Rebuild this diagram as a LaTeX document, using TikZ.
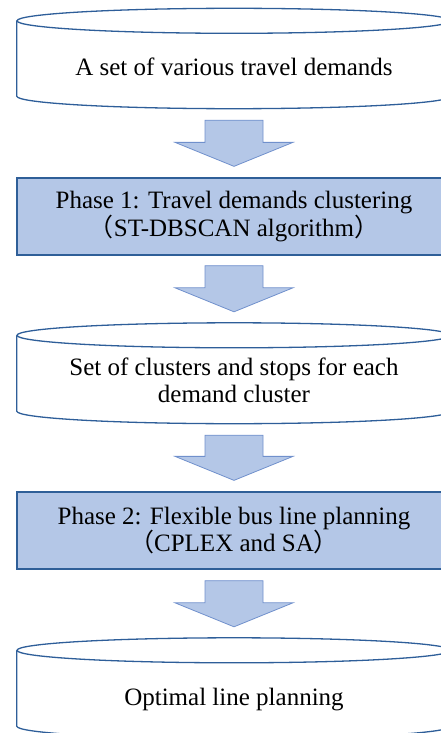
\documentclass[tikz,border=0pt]{standalone}
\usepackage{fontspec}
\setmainfont{Liberation Serif}
\newfontfamily\cjk{Noto Sans CJK SC}
\usetikzlibrary{calc}

\definecolor{phasefill}{HTML}{B4C7E7}
\definecolor{phaseline}{HTML}{2F5F98}
\definecolor{drumline}{HTML}{2E5E99}
\definecolor{arrowline}{HTML}{7090CC}

% full-width brackets as in the source text
\newcommand\lpar{{\cjk （}}
\newcommand\rpar{{\cjk ）}}

% block arrow from node #1 (gap #3 below it) to node #2 (tip #4 above it)
\newcommand\fatarrow[4]{%
  \path let \p1=($(#1.south)+(0,-#3)$), \p2=($(#2.north)+(0,#4)$) in
    [blockarrow] (\x1-29pt,\y1) -- (\x1+29pt,\y1) -- (\x1+29pt,\y2+24pt)
    -- (\x1+59pt,\y2+24pt) -- (\x1,\y2) -- (\x1-59pt,\y2+24pt)
    -- (\x1-29pt,\y2+24pt) -- cycle;}

% outline of a drum (cylinder) around the body node #1
\newcommand\drumoutline[1]{%
  \draw[drumline, line width=1.3pt, fill=white]
    (#1.north west) -- (#1.south west)
    arc[start angle=180, end angle=360, x radius=217pt, y radius=12.5pt]
    -- (#1.north east);
  \draw[drumline, line width=1.3pt] (#1.north) ellipse [x radius=217pt, y radius=12.5pt];}

\begin{document}
\begin{tikzpicture}[x=1pt, y=1pt,
  font=\fontsize{25}{27.5}\selectfont,
  drum/.style={draw=none, minimum width=434pt, inner sep=0pt},
  phase/.style={draw=phaseline, line width=1.3pt, fill=phasefill,
    minimum width=434pt, minimum height=77pt, inner sep=0pt, align=center},
  drumtext/.style={align=center, inner sep=0pt},
  blockarrow/.style={draw=arrowline, line width=0.8pt, fill=phasefill, line join=miter}]
\useasboundingbox (0,0) rectangle (441,-733);

% data stores
\node[drum, minimum height=75pt] (c1) at (234,-58.5) {};
\node[drum, minimum height=75.5pt] (c2) at (234,-373.25) {};
\node[drum, minimum height=75.5pt] (c3) at (234,-688.25) {};
\drumoutline{c1}
\drumoutline{c2}
\drumoutline{c3}
\node[drumtext] (t1) at ($(c1.center)+(0,-8)$) {A set of various travel demands};
\node[drumtext] (t2) at ($(c2.center)+(0,-7)$) {Set of clusters and stops for each\\demand cluster};
\node[drumtext] (t3) at ($(c3.center)+(0,-11)$) {Optimal line planning};

% processing phases
\node[phase] (p1) at (234,-216.5) {Phase 1: Travel demands clustering\\\lpar ST-DBSCAN algorithm\rpar};
\node[phase] (p2) at (234,-530.5) {Phase 2: Flexible bus line planning\\\lpar CPLEX and SA\rpar};

% flow
\fatarrow{c1}{p1}{24pt}{11pt}
\fatarrow{p1}{c2}{10pt}{23.5pt}
\fatarrow{c2}{p2}{24pt}{11pt}
\fatarrow{p2}{c3}{11pt}{23.5pt}
\end{tikzpicture}
\end{document}
